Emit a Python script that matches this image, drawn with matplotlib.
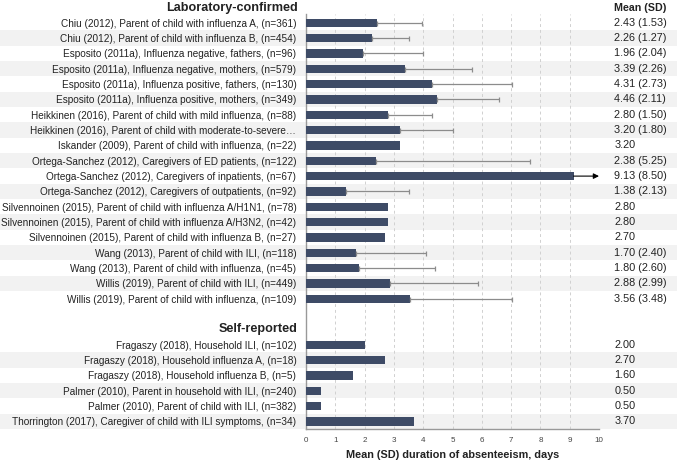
import matplotlib
matplotlib.use("Agg")
import matplotlib.pyplot as plt
from matplotlib.patches import Rectangle
from matplotlib.transforms import blended_transform_factory
import numpy as np

plt.rcParams['font.family'] = ['Liberation Sans', 'DejaVu Sans']

lab_labels = [
    "Chiu (2012), Parent of child with influenza A, (n=361)",
    "Chiu (2012), Parent of child with influenza B, (n=454)",
    "Esposito (2011a), Influenza negative, fathers, (n=96)",
    "Esposito (2011a), Influenza negative, mothers, (n=579)",
    "Esposito (2011a), Influenza positive, fathers, (n=130)",
    "Esposito (2011a), Influenza positive, mothers, (n=349)",
    "Heikkinen (2016), Parent of child with mild influenza, (n=88)",
    "Heikkinen (2016), Parent of child with moderate-to-severe\u2026",
    "Iskander (2009), Parent of child with influenza, (n=22)",
    "Ortega-Sanchez (2012), Caregivers of ED patients, (n=122)",
    "Ortega-Sanchez (2012), Caregivers of inpatients, (n=67)",
    "Ortega-Sanchez (2012), Caregivers of outpatients, (n=92)",
    "Silvennoinen (2015), Parent of child with influenza A/H1N1, (n=78)",
    "Silvennoinen (2015), Parent of child with influenza A/H3N2, (n=42)",
    "Silvennoinen (2015), Parent of child with influenza B, (n=27)",
    "Wang (2013), Parent of child with ILI, (n=118)",
    "Wang (2013), Parent of child with influenza, (n=45)",
    "Willis (2019), Parent of child with ILI, (n=449)",
    "Willis (2019), Parent of child with influenza, (n=109)",
]
lab_mean = [2.43, 2.26, 1.96, 3.39, 4.31, 4.46, 2.80, 3.20, 3.20, 2.38, 9.13, 1.38,
            2.80, 2.80, 2.70, 1.70, 1.80, 2.88, 3.56]
lab_sd = [1.53, 1.27, 2.04, 2.26, 2.73, 2.11, 1.50, 1.80, None, 5.25, 8.50, 2.13,
          None, None, None, 2.40, 2.60, 2.99, 3.48]

self_labels = [
    "Fragaszy (2018), Household ILI, (n=102)",
    "Fragaszy (2018), Household influenza A, (n=18)",
    "Fragaszy (2018), Household influenza B, (n=5)",
    "Palmer (2010), Parent in household with ILI, (n=240)",
    "Palmer (2010), Parent of child with ILI, (n=382)",
    "Thorrington (2017), Caregiver of child with ILI symptoms, (n=34)",
]
self_mean = [2.00, 2.70, 1.60, 0.50, 0.50, 3.70]
self_sd = [None, None, None, None, None, None]

x_ticks = list(range(0, 11))
x_max = 10

bar_color = '#3e4b66'
err_color = '#8c8c8c'
band_color = '#f2f2f2'

fig = plt.figure(figsize=(6.77, 4.61), dpi=100)
ax = fig.add_axes([306/677, 1-429/461, 293/677, (429-14)/461])
ax.patch.set_visible(False)

lab_pos = list(range(1, len(lab_labels) + 1))
self_header_pos = len(lab_labels) + 2
self_pos = list(range(self_header_pos + 1, self_header_pos + 1 + len(self_labels)))

positions = lab_pos + self_pos
labels = lab_labels + self_labels
means = lab_mean + self_mean
sds = lab_sd + self_sd

ax.set_xlim(0, x_max)
ax.set_ylim(self_pos[-1] + 0.49, 0.43)

# shading bands
bt = blended_transform_factory(fig.transFigure, ax.transData)
for group in (lab_pos, self_pos):
    for i, p in enumerate(group):
        if i % 2 == 1:
            r = Rectangle((0, p - 0.5), 1, 1, transform=bt, facecolor=band_color,
                          edgecolor='none', zorder=0, clip_on=False)
            ax.add_artist(r)

# grid
for xt in x_ticks[1:]:
    ax.axvline(xt, color='#d0d0d0', lw=0.7, ls=(0, (3, 3)), zorder=1)

ax.barh(positions, means, height=0.55, color=bar_color, zorder=3)

for p, m, s in zip(positions, means, sds):
    if s is None:
        continue
    hi = m + s
    if hi > x_max:
        ax.annotate('', xy=(x_max, p), xytext=(m, p),
                    arrowprops=dict(arrowstyle='-|>', color='black', lw=0.8,
                                    mutation_scale=8, shrinkA=0, shrinkB=0),
                    zorder=4, annotation_clip=False)
    else:
        ax.errorbar([m], [p], xerr=[[0], [s]], fmt='none', ecolor=err_color,
                    elinewidth=0.9, capsize=1.8, capthick=0.9, zorder=4)

ax.set_yticks(positions)
ax.set_yticklabels(labels, fontsize=7.2, color='#222222')
ax.tick_params(axis='y', length=0, pad=7)
ax.set_xticks(x_ticks)
ax.set_xticklabels([str(t) for t in x_ticks], fontsize=5.8, color='#444444')
ax.tick_params(axis='x', length=0, pad=6)

for side in ('top', 'right'):
    ax.spines[side].set_visible(False)
for side in ('left', 'bottom'):
    ax.spines[side].set_color('#999999')
    ax.spines[side].set_linewidth(1.0)

ax.set_xlabel('Mean (SD) duration of absenteeism, days', fontsize=7.8,
              fontweight='bold', color='#222222', labelpad=4)

# group headers
ht = blended_transform_factory(ax.transAxes, ax.transData)
ax.text(-0.028, 0.05, 'Laboratory-confirmed', transform=ht, ha='right', va='center',
        fontsize=9.1, fontweight='bold', color='#222222', clip_on=False)
ax.text(-0.028, self_header_pos, 'Self-reported', transform=ht, ha='right', va='center',
        fontsize=9.1, fontweight='bold', color='#222222', clip_on=False)

# values column
ax.text(1.052, 0.05, 'Mean (SD)', transform=ht, ha='left', va='center',
        fontsize=7.7, fontweight='bold', color='#222222', clip_on=False)
for p, m, s in zip(positions, means, sds):
    txt = f"{m:.2f}" if s is None else f"{m:.2f} ({s:.2f})"
    ax.text(1.052, p, txt, transform=ht, ha='left', va='center',
            fontsize=7.8, color='#222222', clip_on=False)

fig.savefig('out.png', dpi=100)
